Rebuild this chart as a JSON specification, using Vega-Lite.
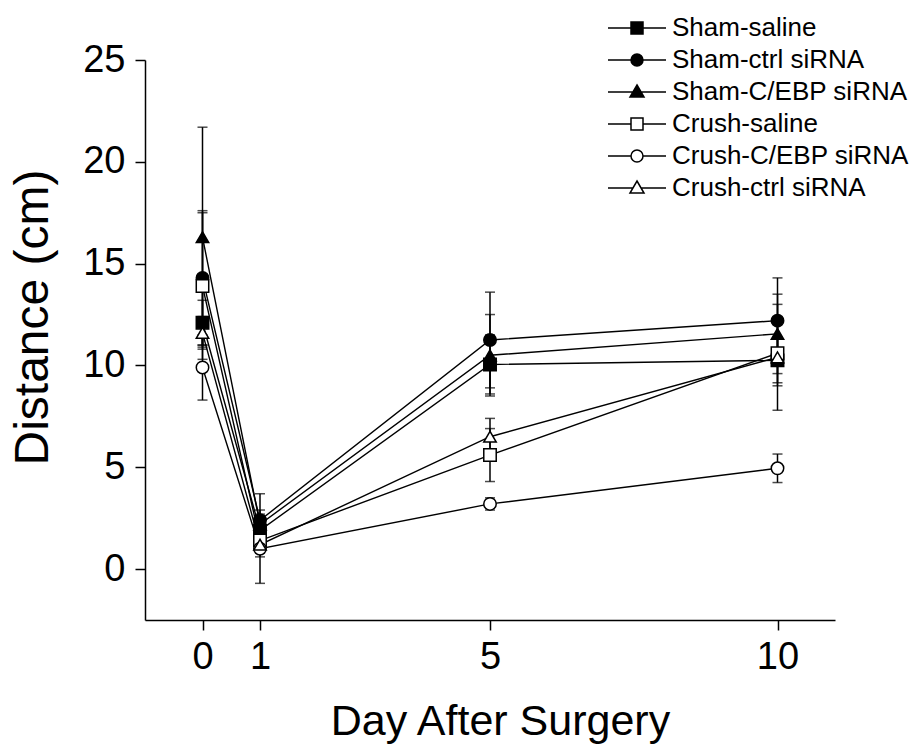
{
  "$schema": "https://vega.github.io/schema/vega-lite/v6.json",
  "width": 690,
  "height": 560,
  "autosize": "none",
  "padding": {"left": 145, "top": 60, "right": 87, "bottom": 128},
  "background": "white",
  "config": {
    "view": {"stroke": null},
    "font": "Liberation Sans",
    "axis": {
      "grid": false,
      "domainColor": "black",
      "tickColor": "black",
      "labelColor": "black",
      "titleColor": "black",
      "domainWidth": 1.5,
      "tickWidth": 1.5,
      "tickSize": 10,
      "labelFontSize": 38,
      "titleFontSize": 44,
      "labelFont": "Liberation Sans",
      "titleFont": "Liberation Sans",
      "titleFontWeight": "normal"
    }
  },
  "data": {
    "values": [
      {"group": "Sham-saline", "day": 0, "mean": 12.1, "lo": 11.0, "hi": 13.2},
      {"group": "Sham-saline", "day": 1, "mean": 1.9, "lo": 1.2, "hi": 2.6},
      {"group": "Sham-saline", "day": 5, "mean": 10.05, "lo": 8.6, "hi": 11.5},
      {"group": "Sham-saline", "day": 10, "mean": 10.25, "lo": 9.15, "hi": 11.35},
      {"group": "Sham-ctrl siRNA", "day": 0, "mean": 14.3, "lo": 11.0, "hi": 17.6},
      {"group": "Sham-ctrl siRNA", "day": 1, "mean": 2.4, "lo": 1.1, "hi": 3.7},
      {"group": "Sham-ctrl siRNA", "day": 5, "mean": 11.25, "lo": 8.9, "hi": 13.6},
      {"group": "Sham-ctrl siRNA", "day": 10, "mean": 12.2, "lo": 10.1, "hi": 14.3},
      {"group": "Sham-C/EBP siRNA", "day": 0, "mean": 16.3, "lo": 10.9, "hi": 21.7},
      {"group": "Sham-C/EBP siRNA", "day": 1, "mean": 2.2, "lo": 1.5, "hi": 2.9},
      {"group": "Sham-C/EBP siRNA", "day": 5, "mean": 10.5, "lo": 8.5, "hi": 12.5},
      {"group": "Sham-C/EBP siRNA", "day": 10, "mean": 11.55, "lo": 9.6, "hi": 13.5},
      {"group": "Crush-saline", "day": 0, "mean": 13.9, "lo": 10.3, "hi": 17.5},
      {"group": "Crush-saline", "day": 1, "mean": 1.4, "lo": 0.8, "hi": 2.0},
      {"group": "Crush-saline", "day": 5, "mean": 5.6, "lo": 4.3, "hi": 6.9},
      {"group": "Crush-saline", "day": 10, "mean": 10.6, "lo": 9.0, "hi": 12.2},
      {"group": "Crush-C/EBP siRNA", "day": 0, "mean": 9.9, "lo": 8.3, "hi": 11.5},
      {"group": "Crush-C/EBP siRNA", "day": 1, "mean": 1.0, "lo": -0.7, "hi": 2.7},
      {"group": "Crush-C/EBP siRNA", "day": 5, "mean": 3.2, "lo": 2.9, "hi": 3.5},
      {"group": "Crush-C/EBP siRNA", "day": 10, "mean": 4.95, "lo": 4.25, "hi": 5.65},
      {"group": "Crush-ctrl siRNA", "day": 0, "mean": 11.6, "lo": 10.8, "hi": 12.4},
      {"group": "Crush-ctrl siRNA", "day": 1, "mean": 1.2, "lo": 0.6, "hi": 1.8},
      {"group": "Crush-ctrl siRNA", "day": 5, "mean": 6.5, "lo": 5.6, "hi": 7.4},
      {"group": "Crush-ctrl siRNA", "day": 10, "mean": 10.4, "lo": 7.8, "hi": 13.0}
    ]
  },
  "encoding": {
    "x": {
      "field": "day",
      "type": "quantitative",
      "scale": {"domain": [-1, 11], "nice": false, "zero": false},
      "axis": {"values": [0, 1, 5, 10], "title": "Day After Surgery", "labelPadding": 8, "titlePadding": 24, "titleFontSize": 43, "titleX": 355}
    }
  },
  "layer": [
    {
      "mark": {"type": "rule", "color": "black", "strokeWidth": 1.5},
      "encoding": {
        "y": {"field": "lo", "type": "quantitative", "scale": {"domain": [-2.5, 25], "nice": false, "zero": false},
              "axis": {"values": [0, 5, 10, 15, 20, 25], "title": "Distance (cm)", "labelPadding": 10, "titlePadding": 25, "titleFontSize": 48, "titleY": 257}},
        "y2": {"field": "hi"}
      }
    },
    {
      "mark": {"type": "tick", "orient": "horizontal", "size": 10, "thickness": 1.5, "color": "black"},
      "encoding": {"y": {"field": "lo", "type": "quantitative"}}
    },
    {
      "mark": {"type": "tick", "orient": "horizontal", "size": 10, "thickness": 1.5, "color": "black"},
      "encoding": {"y": {"field": "hi", "type": "quantitative"}}
    },
    {
      "mark": {"type": "line", "color": "black", "strokeWidth": 1.4},
      "encoding": {
        "y": {"field": "mean", "type": "quantitative"},
        "detail": {"field": "group"}
      }
    },
    {
      "mark": {"type": "point", "filled": true, "stroke": "black", "strokeWidth": 1.5, "size": 155, "opacity": 1},
      "encoding": {
        "y": {"field": "mean", "type": "quantitative"},
        "shape": {
          "field": "group",
          "type": "nominal",
          "scale": {
            "domain": ["Sham-saline", "Sham-ctrl siRNA", "Sham-C/EBP siRNA", "Crush-saline", "Crush-C/EBP siRNA", "Crush-ctrl siRNA"],
            "range": ["square", "circle", "triangle-up", "square", "circle", "triangle-up"]
          },
          "legend": null
        },
        "fill": {
          "field": "group",
          "type": "nominal",
          "scale": {
            "domain": ["Sham-saline", "Sham-ctrl siRNA", "Sham-C/EBP siRNA", "Crush-saline", "Crush-C/EBP siRNA", "Crush-ctrl siRNA"],
            "range": ["black", "black", "black", "white", "white", "white"]
          },
          "legend": null
        }
      }
    },
    {
      "transform": [{"filter": "datum.day < -5"}],
      "mark": {"type": "point", "filled": false, "stroke": "black", "strokeWidth": 1.5, "size": 400, "opacity": 1},
      "encoding": {
        "y": {"field": "mean", "type": "quantitative"},
        "shape": {
          "field": "group",
          "type": "nominal",
          "scale": {
            "domain": ["Sham-saline", "Sham-ctrl siRNA", "Sham-C/EBP siRNA", "Crush-saline", "Crush-C/EBP siRNA", "Crush-ctrl siRNA"],
            "range": [
              "M-2.9,0H2.9M-0.6,-0.6H0.6V0.6H-0.6Z",
              "M-2.9,0H2.9M0.6,0A0.6,0.6,0,1,1,-0.6,0A0.6,0.6,0,1,1,0.6,0Z",
              "M-2.9,0H2.9M0,-0.7L0.7,0.5H-0.7Z",
              "M-2.9,0H-0.6M0.6,0H2.9M-0.6,-0.6H0.6V0.6H-0.6Z",
              "M-2.9,0H-0.6M0.6,0H2.9M0.6,0A0.6,0.6,0,1,1,-0.6,0A0.6,0.6,0,1,1,0.6,0Z",
              "M-2.9,0H-0.41M0.41,0H2.9M0,-0.7L0.7,0.5H-0.7Z"
            ]
          },
          "legend": {
            "orient": "none", "legendX": 460, "legendY": -45, "title": null, "padding": 0,
            "labelFontSize": 26, "labelFont": "Liberation Sans", "labelColor": "black", "labelLimit": 0,
            "symbolSize": 400, "symbolStrokeWidth": 1.5, "symbolStrokeColor": "black", "symbolOpacity": 1,
            "symbolOffset": 19, "labelOffset": 22, "rowPadding": 6,
            "encode": {"symbols": {"update": {"stroke": {"value": "black"}, "strokeWidth": {"value": 1.5}}}}
          }
        },
        "fill": {
          "field": "group",
          "type": "nominal",
          "scale": {
            "domain": ["Sham-saline", "Sham-ctrl siRNA", "Sham-C/EBP siRNA", "Crush-saline", "Crush-C/EBP siRNA", "Crush-ctrl siRNA"],
            "range": ["black", "black", "black", "white", "white", "white"]
          },
          "legend": {
            "orient": "none", "legendX": 460, "legendY": -45, "title": null, "padding": 0,
            "labelFontSize": 26, "labelFont": "Liberation Sans", "labelColor": "black", "labelLimit": 0,
            "symbolSize": 400, "symbolStrokeWidth": 1.5, "symbolStrokeColor": "black", "symbolOpacity": 1,
            "symbolOffset": 19, "labelOffset": 22, "rowPadding": 6,
            "encode": {"symbols": {"update": {"stroke": {"value": "black"}, "strokeWidth": {"value": 1.5}}}}
          }
        }
      }
    }
  ],
  "resolve": {"scale": {"shape": "independent", "fill": "independent"}}
}
